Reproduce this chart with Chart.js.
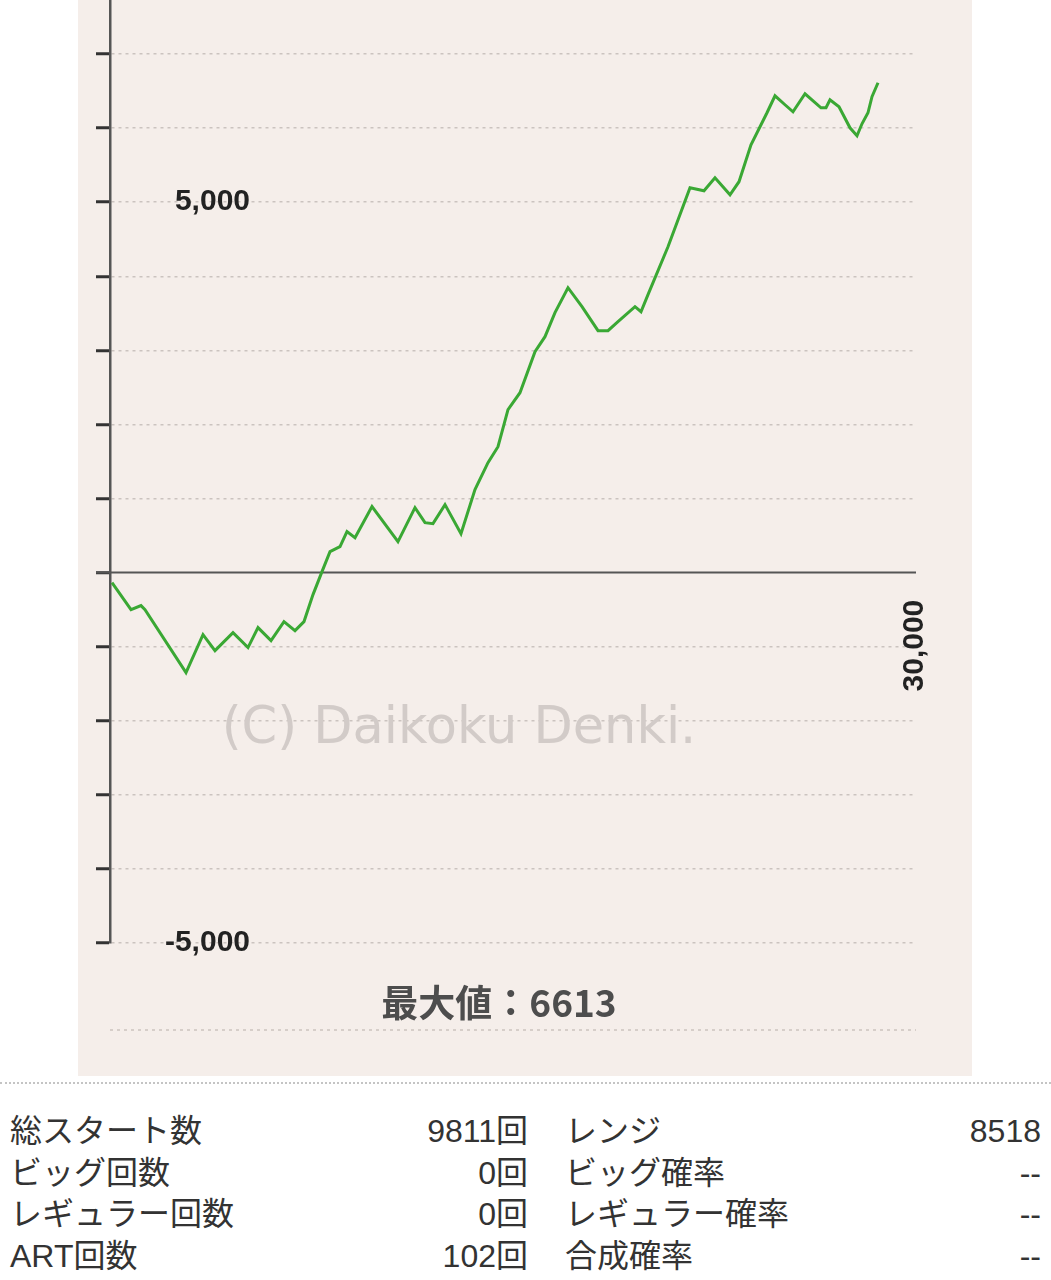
<!DOCTYPE html>
<html>
<head>
<meta charset="utf-8">
<script src="https://cdn.jsdelivr.net/npm/chart.js@4.4.1/dist/chart.umd.min.js"></script>
<style>
  html, body { margin: 0; padding: 0; background: #ffffff; }
  body { width: 1051px; height: 1280px; position: relative; overflow: hidden;
         font-family: "Liberation Sans", "Noto Sans CJK JP", sans-serif; color: #333; }
  #panel { position: absolute; left: 78px; top: 0; width: 894px; height: 1076px; background: #f5eeea; }
  #sep { position: absolute; left: 0; top: 1082px; width: 1051px; height: 0; border-top: 2px dotted #c4c4c4; }
  .row { position: absolute; left: 0; width: 1051px; height: 41.5px; line-height: 41.5px; font-size: 32px; }
  .row span { position: absolute; top: 0; white-space: nowrap; }
  .l1 { left: 10px; }
  .v1 { right: 523px; }
  .l2 { left: 565px; }
  .v2 { right: 10px; }
</style>
</head>
<body>
<div id="panel"><canvas id="c"></canvas></div>
<div id="sep"></div>
<div id="table"></div>
<script>
// ---- data ----
const gameX = [74,782,1154,1303,2829,3462,3908,4578,5137,5509,5993,6476,6886,7221,7556,7891,8189,8561,8821,9119,9752,10719,11352,11724,12022,12469,13064,13585,14069,14441,14814,15260,15819,16191,16563,17047,17568,18164,18536,18908,19541,19764,20025,20769,21588,22109,22518,23077,23412,23858,24454,24752,25124,25422,25869,26464,26650,26799,27134,27543,27804,27990,28213,28362,28586];
const diffY = [-135,-499,-445,-499,-1349,-837,-1053,-810,-1012,-742,-918,-661,-783,-661,-297,13,283,351,553,472,891,418,877,675,661,918,526,1120,1484,1700,2200,2429,2982,3185,3509,3846,3590,3266,3266,3387,3590,3522,3752,4399,5196,5155,5331,5101,5277,5776,6208,6437,6316,6221,6464,6275,6275,6383,6289,6005,5897,6059,6208,6424,6613];
const yTickValues = [-5000,-4000,-3000,-2000,-1000,0,1000,2000,3000,4000,5000,6000,7000];
const yLabelValues = [5000, -5000];
const xLabelValue = 30000;
const watermarkText = "(C) Daikoku Denki.";
const maxLabel = "最大値：";

const leftLabels = ["総スタート数", "ビッグ回数", "レギュラー回数", "ART回数"];
const leftValues = ["9811回", "0回", "0回", "102回"];
const rightLabels = ["レンジ", "ビッグ確率", "レギュラー確率", "合成確率"];
const rightValues = ["8518", "--", "--", "--"];

// ---- table ----
const table = document.getElementById('table');
for (let i = 0; i < leftLabels.length; i++) {
  const r = document.createElement('div');
  r.className = 'row';
  r.style.top = (1111 + i * 41.5) + 'px';
  r.innerHTML = '<span class="l1">' + leftLabels[i] + '</span><span class="v1">' + leftValues[i] +
    '</span><span class="l2">' + rightLabels[i] + '</span><span class="v2">' + rightValues[i] + '</span>';
  table.appendChild(r);
}

// ---- chart ----
const points = gameX.map((x, i) => ({ x: x, y: diffY[i] }));
const gridColor = '#cbc3bf';
const labelFont = 'bold 30px "Liberation Sans", Arial, sans-serif';

const decor = {
  id: 'decor',
  beforeDatasetsDraw(chart) {
    const { ctx, chartArea: a, scales: { x, y } } = chart;
    const zy = y.getPixelForValue(0);
    ctx.save();
    // watermark
    ctx.fillStyle = 'rgba(210,203,200,1)';
    ctx.font = '51px "DejaVu Sans", sans-serif';
    ctx.textAlign = 'center';
    ctx.textBaseline = 'middle';
    ctx.fillText(watermarkText, a.left + 349, zy + 157);
    // zero line
    ctx.strokeStyle = '#555';
    ctx.lineWidth = 2;
    ctx.beginPath();
    ctx.moveTo(a.left - 14, zy);
    ctx.lineTo(x.getPixelForValue(xLabelValue), zy);
    ctx.stroke();
    // y labels
    ctx.fillStyle = '#222';
    ctx.font = labelFont;
    ctx.textAlign = 'right';
    yLabelValues.forEach(v => {
      ctx.fillText(v.toLocaleString('en-US'), a.left + 140, y.getPixelForValue(v));
    });
    // x label (rotated)
    ctx.save();
    ctx.translate(x.getPixelForValue(xLabelValue) - 1, zy + 73);
    ctx.rotate(-Math.PI / 2);
    ctx.textAlign = 'center';
    ctx.fillText(xLabelValue.toLocaleString('en-US'), 0, 0);
    ctx.restore();
    ctx.restore();
  },
  afterDraw(chart) {
    const { ctx, chartArea: a } = chart;
    const maxV = Math.max(...diffY);
    ctx.save();
    ctx.fillStyle = '#4d4d4d';
    ctx.font = 'bold 37px "Noto Sans CJK JP", sans-serif';
    ctx.textAlign = 'center';
    ctx.textBaseline = 'middle';
    ctx.fillText(maxLabel + maxV, a.left + 389, a.bottom + 60);
    ctx.strokeStyle = gridColor;
    ctx.lineWidth = 1.5;
    ctx.setLineDash([3, 4]);
    ctx.beginPath();
    ctx.moveTo(a.left, a.bottom + 87);
    ctx.lineTo(a.right, a.bottom + 87);
    ctx.stroke();
    ctx.restore();
  }
};

new Chart(document.getElementById('c'), {
  type: 'line',
  data: {
    datasets: [{
      data: points,
      borderColor: '#3aa834',
      borderWidth: 3,
      pointRadius: 0,
      tension: 0,
      fill: false
    }]
  },
  options: {
    responsive: true,
    maintainAspectRatio: false,
    animation: false,
    layout: { padding: { left: 0, right: 56, top: 0, bottom: 133 } },
    plugins: { legend: { display: false }, tooltip: { enabled: false } },
    scales: {
      x: { type: 'linear', min: 0, max: xLabelValue, display: false },
      y: {
        type: 'linear', min: -5000, max: 7730,
        afterBuildTicks: s => { s.ticks = yTickValues.map(v => ({ value: v })); },
        afterFit: s => { s.width = 32; },
        ticks: { display: false },
        grid: {
          color: c => (c.tick && c.tick.value === 0) ? 'rgba(0,0,0,0)' : gridColor,
          lineWidth: 1.5,
          drawTicks: true,
          tickLength: 14,
          tickColor: '#333',
          tickWidth: 3
        },
        border: { display: true, color: '#555', width: 2.5, dash: [3, 4] }
      }
    }
  },
  plugins: [decor]
});
</script>
</body>
</html>
